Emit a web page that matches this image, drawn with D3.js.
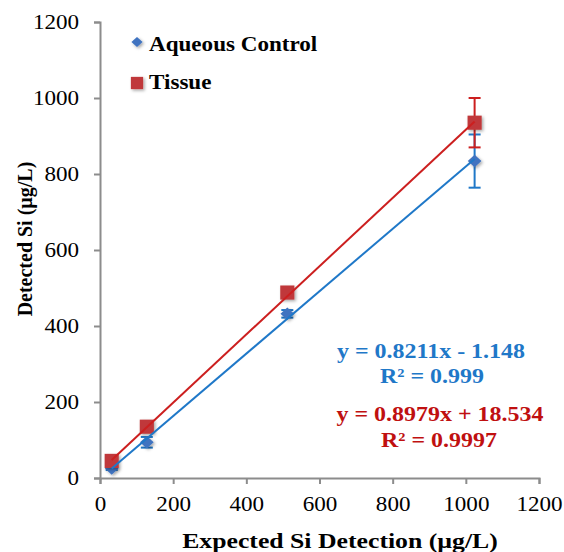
<!DOCTYPE html>
<html><head><meta charset="utf-8">
<script src="https://cdn.jsdelivr.net/npm/d3@7"></script>
<style>body{margin:0;background:#fff}svg{display:block}</style>
</head><body>
<script>
const expected = [32, 128, 512, 1024];
const aqueousValues = [25, 94, 432, 834];
const aqueousErrors = [4, 14, 10, 70];
const tissueValues = [45, 135, 488, 935];
const tissueErrors = [4, 6, 8, 65];
const xTicks = [0, 200, 400, 600, 800, 1000, 1200];
const yTicks = [0, 200, 400, 600, 800, 1000, 1200];
const fits = [
  {name: "Aqueous Control", slope: 0.8211, intercept: -1.148, eq: "y = 0.8211x - 1.148", r2: "R² = 0.999"},
  {name: "Tissue", slope: 0.8979, intercept: 18.534, eq: "y = 0.8979x + 18.534", r2: "R² = 0.9997"}
];

const W = 564, H = 552;
const svg = d3.select("body").append("svg").attr("width", W).attr("height", H);
const defs = svg.append("defs");
const f = defs.append("filter").attr("id","sh").attr("x","-50%").attr("y","-50%").attr("width","200%").attr("height","200%");
f.append("feDropShadow").attr("dx",1.5).attr("dy",1.5).attr("stdDeviation",1.5).attr("flood-color","#000").attr("flood-opacity",0.35);

const x = d3.scaleLinear().domain([0, 1200]).range([100, 539]);
const y = d3.scaleLinear().domain([0, 1200]).range([478, 22]);
const font = "'Liberation Serif', 'Times New Roman', serif";
const axisColor = "#8c8c8c";
const SX = 1.1;

const diamond = {draw(ctx, size) {
  const w = Math.sqrt(size) * 0.72, h = Math.sqrt(size) * 0.66;
  ctx.moveTo(0, -h); ctx.lineTo(w, 0); ctx.lineTo(0, h); ctx.lineTo(-w, 0); ctx.closePath();
}};

const xAxis = svg.append("g").attr("transform", `translate(0,${y(0)})`)
  .call(d3.axisBottom(x).tickValues(xTicks).tickSize(6).tickPadding(8).tickFormat(d3.format("d")));
const yAxis = svg.append("g").attr("transform", `translate(${x(0)},0)`)
  .call(d3.axisLeft(y).tickValues(yTicks).tickSize(6).tickPadding(13).tickFormat(d3.format("d")));
[xAxis, yAxis].forEach(g => {
  g.selectAll("path,line").attr("stroke", axisColor).attr("stroke-width", 2);
  g.selectAll("text").attr("font-family", font).attr("font-size", 21).attr("fill", "#000")
    .attr("transform", `scale(${SX},1)`);
});
xAxis.selectAll("text").attr("dy", "0.9em");

const series = [
  {vals: aqueousValues, errs: aqueousErrors, fit: fits[0], color: "#1f78c8", marker: "#3f73c0", shape: diamond, size: 90},
  {vals: tissueValues, errs: tissueErrors, fit: fits[1], color: "#cc1f1f", marker: "#c0393a", shape: d3.symbolSquare, size: 200}
];

series.forEach(s => {
  const eb = svg.append("g");
  expected.forEach((e, i) => {
    const top = y(s.vals[i] + s.errs[i]), bot = y(s.vals[i] - s.errs[i]);
    eb.append("line").attr("x1", x(e)).attr("x2", x(e)).attr("y1", top).attr("y2", bot).attr("stroke", s.color).attr("stroke-width", 2);
    [top, bot].forEach(yy => eb.append("line").attr("x1", x(e)-6).attr("x2", x(e)+6).attr("y1", yy).attr("y2", yy).attr("stroke", s.color).attr("stroke-width", 2));
  });
});
series.forEach(s => {
  svg.append("g").selectAll("path").data(expected).join("path")
    .attr("d", d3.symbol().type(s.shape).size(s.size))
    .attr("transform", (d, i) => `translate(${x(d)},${y(s.vals[i])})`)
    .attr("fill", s.marker).attr("filter", "url(#sh)");
});
series.forEach(s => {
  const x0 = expected[0], x1 = expected[expected.length-1];
  svg.append("line")
    .attr("x1", x(x0)).attr("y1", y(s.fit.slope*x0 + s.fit.intercept))
    .attr("x2", x(x1)).attr("y2", y(s.fit.slope*x1 + s.fit.intercept))
    .attr("stroke", s.color).attr("stroke-width", 2);
});

function stretchedText(parent, tx, ty, str, opts) {
  const g = parent.append("g").attr("transform", `translate(${tx},${ty}) scale(${opts.sx || SX},1)`);
  return g.append("text").attr("x", 0).attr("y", 0)
    .attr("text-anchor", opts.anchor || "start")
    .attr("font-family", font).attr("font-weight", "bold")
    .attr("font-size", opts.size).attr("fill", opts.fill || "#000").text(str);
}

// equations
const eqs = [
  {t: fits[0].eq, cx: 431, by: 358, c: "#1f78c8"},
  {t: fits[0].r2, cx: 432, by: 383, c: "#1f78c8"},
  {t: fits[1].eq, cx: 440, by: 421, c: "#c01010"},
  {t: fits[1].r2, cx: 439, by: 447, c: "#c01010"}
];
eqs.forEach(d => stretchedText(svg, d.cx, d.by, d.t, {size: 22, sx: 1.09, anchor: "middle", fill: d.c}));

// legend
const leg = svg.append("g");
leg.append("path").attr("d", d3.symbol().type(diamond).size(60)).attr("transform", "translate(137,42)").attr("fill", "#3f73c0").attr("filter","url(#sh)");
stretchedText(leg, 149, 50.5, fits[0].name, {size: 21});
leg.append("path").attr("d", d3.symbol().type(d3.symbolSquare).size(150)).attr("transform", "translate(137,83)").attr("fill", "#c0393a").attr("filter","url(#sh)");
stretchedText(leg, 149, 88.5, fits[1].name, {size: 21});

// axis titles
stretchedText(svg, 340, 548, "Expected Si Detection (µg/L)", {size: 22, sx: 1.17, anchor: "middle"});
svg.append("text").attr("transform", "translate(32,239) rotate(-90) scale(1,1.08)").attr("text-anchor", "middle")
  .attr("font-family", font).attr("font-weight", "bold").attr("font-size", 20).text("Detected Si (µg/L)");
</script>
</body></html>
